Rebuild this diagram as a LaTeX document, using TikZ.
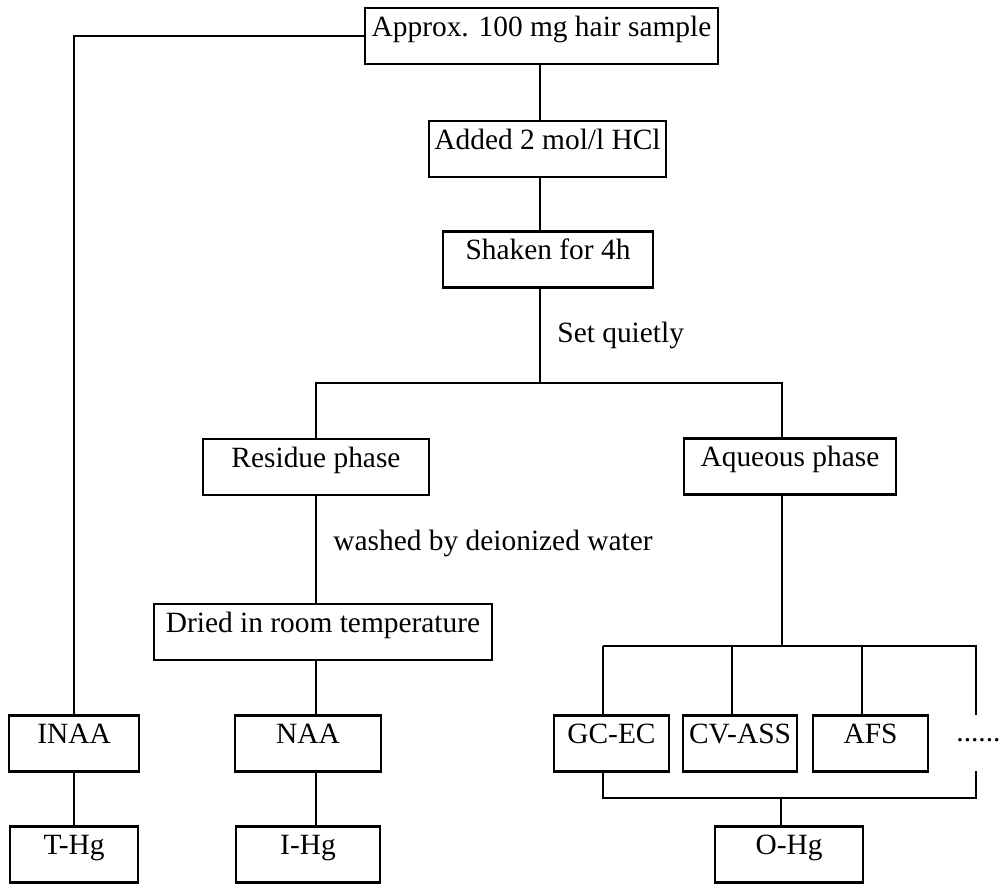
\documentclass[tikz,border=0pt]{standalone}
\usepackage{fontspec}
\setmainfont{Liberation Serif}
\usetikzlibrary{calc}

\begin{document}
\begin{tikzpicture}[
    x=0.5pt, y=-0.5pt,
    box/.style={rectangle, draw, line width=1.4pt, inner sep=0pt, text height=14pt, text depth=14pt, font=\fontsize{14.7}{17}\selectfont},
    link/.style={line width=1.2pt},
    note/.style={anchor=west, inner sep=0pt, font=\fontsize{14.7}{17}\selectfont},
]
\useasboundingbox (0,0) rectangle (1001,885);

% Sample preparation (centre column)
\node[box, minimum width=176.5pt] (sample) at (541.5,36) {Approx. 100 mg hair sample};
\node[box, minimum width=118.5pt] (hcl) at (547.5,149) {Added 2 mol/l HCl};
\node[box, minimum width=105pt] (shaken) at (548,259.5) {Shaken for 4h};
\node[note] (quiet) at (557,335) {Set quietly};

\coordinate (split) at (540,383);
\coordinate (resx) at (316,383);
\coordinate (aqx) at (782,383);

\draw[link] (sample.south -| split) -- (hcl.north -| split);
\draw[link] (hcl.south -| split) -- (shaken.north -| split);
\draw[link] (shaken.south -| split) -- (split);

% Two phases
\node[box, minimum width=113pt] (residue) at (316,467) {Residue phase};
\node[box, minimum width=106pt] (aqueous) at (790,466.5) {Aqueous phase};

\draw[link] (residue.north -| resx) -- (resx) -- (aqx) -- (aqueous.north -| aqx);

% Residue branch
\node[note] (wash) at (333,543) {washed by deionized water};
\node[box, minimum width=169pt] (dried) at (323,632) {Dried in room temperature};
\node[box, minimum width=73pt] (naa) at (308,743.5) {NAA};
\node[box, minimum width=72pt] (ihg) at (308,854.5) {I-Hg};

\draw[link] (residue.south -| resx) -- (dried.north -| resx);
\draw[link] (dried.south -| resx) -- (naa.north -| resx);
\draw[link] (naa.south -| resx) -- (ihg.north -| resx);

% Direct branch
\node[box, minimum width=65pt] (inaa) at (74,743.5) {INAA};
\node[box, minimum width=64pt] (thg) at (74,854.5) {T-Hg};

\draw[link] (sample.west) -| (inaa.north);
\draw[link] (inaa) -- (thg);

% Aqueous branch
\node[box, minimum width=57.5pt] (gcec) at (611.5,743.5) {GC-EC};
\node[box, minimum width=57pt] (cvass) at (740,743.5) {CV-ASS};
\node[box, minimum width=57.5pt] (afs) at (870.5,743.5) {AFS};
\node[note] (more) at (956,740) {......};
\node[box, minimum width=74pt] (ohg) at (789,854.5) {O-Hg};

\coordinate (fork) at (782,646);
\coordinate (forkend) at (976,646);
\coordinate (dotstop) at (976,715);
\coordinate (dotsbot) at (976,771);
\coordinate (join) at (781,798);
\coordinate (joinend) at (976,798);

\draw[link] (aqueous.south -| fork) -- (fork);
\foreach \n/\x in {gcec/603, cvass/732, afs/862}
  \draw[link] (\x,646) coordinate (top-\n) -- (top-\n |- \n.north);
\draw[link] (top-gcec) -- (forkend) -- (dotstop);
\draw[link] (gcec.south -| top-gcec) |- (joinend) -- (dotsbot);
\draw[link] (join) -- (join |- ohg.north);

\end{tikzpicture}
\end{document}
